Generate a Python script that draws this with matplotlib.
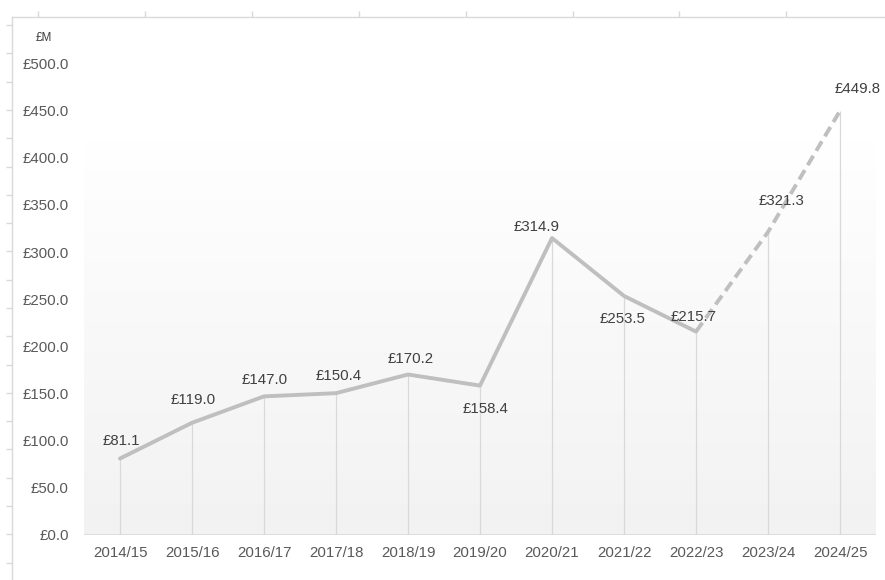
import matplotlib
matplotlib.use("Agg")
import matplotlib.pyplot as plt
import numpy as np

years = ["2014/15", "2015/16", "2016/17", "2017/18", "2018/19", "2019/20",
         "2020/21", "2021/22", "2022/23", "2023/24", "2024/25"]
values = [81.1, 119.0, 147.0, 150.4, 170.2, 158.4, 314.9, 253.5, 215.7, 321.3, 449.8]
last_actual = 8  # 2022/23 onwards is projected (dashed)

# label offsets in pixels (dx, dy) relative to each point
label_offsets = [(1, 18), (1, 23), (1, 16), (3, 17), (3, 16), (6, -23),
                 (-15, 11), (-1, -23), (-2, 15), (13, 31), (18, 22)]

plt.rcParams['font.family'] = ['Liberation Sans', 'DejaVu Sans']

W, H = 885, 580
fig = plt.figure(figsize=(W / 100, H / 100), dpi=100)

# outer frame: left and top rules with small ticks
frame = fig.add_axes([12 / W, 0, 1 - 12 / W, (H - 17) / H])
frame.set_xlim(0, W - 12)
frame.set_ylim(H - 17, 0)
frame.patch.set_alpha(0)
for s in ["right", "bottom"]:
    frame.spines[s].set_visible(False)
for s in ["left", "top"]:
    frame.spines[s].set_color("#d9d9d9")
    frame.spines[s].set_linewidth(1)
frame.xaxis.tick_top()
frame.set_xticks(np.arange(26, W - 12, 106.9))
frame.set_yticks(np.arange(8, H - 17, 28.3))
frame.tick_params(colors="#d9d9d9", length=4, width=1, labelleft=False, labeltop=False)

# main plot area
y0, y500 = 535, 63.5
ax = fig.add_axes([84 / W, (H - y0) / H, (876 - 84) / W, (y0 - y500) / H])
ax.set_xlim(-0.5, 10.5)
ax.set_ylim(0, 500)
ax.patch.set_alpha(0)

grad = np.linspace(0.949, 1.0, 256).reshape(-1, 1)
ax.imshow(np.dstack([grad, grad, grad]), extent=[-0.5, 10.5, 0, 419],
          aspect="auto", origin="lower", zorder=0, interpolation="bilinear")

x = np.arange(len(years))
ax.vlines(x, 0, values, color="#d9d9d9", lw=0.9, zorder=1)
ax.axhline(0, color="#d9d9d9", lw=1.2, zorder=2)

ax.plot(x[:last_actual + 1], values[:last_actual + 1], color="#bfbfbf",
        lw=2.8, solid_capstyle="round", solid_joinstyle="round", zorder=3)
ax.plot(x[last_actual:], values[last_actual:], color="#bfbfbf", lw=2.8,
        linestyle=(0, (2.8, 1.5)), zorder=3)

for xi, v, (dx, dy) in zip(x, values, label_offsets):
    ax.annotate(f"£{v:.1f}", (xi, v), xytext=(dx, dy), textcoords="offset pixels",
                ha="center", va="center", fontsize=10.8, color="#404040", zorder=4)

for s in ax.spines.values():
    s.set_visible(False)
ax.set_xticks(x)
ax.set_xticklabels(years)
ax.set_yticks(np.arange(0, 501, 50))
ax.set_yticklabels([f"£{t:.1f}" for t in np.arange(0, 501, 50)])
ax.tick_params(axis="x", length=0, pad=8, labelsize=10.8, labelcolor="#595959")
ax.tick_params(axis="y", length=0, pad=11, labelsize=10.8, labelcolor="#595959")

fig.text(44 / W, 1 - 38 / H, "£M", ha="center", va="center", fontsize=8.5,
         color="#404040")

fig.savefig("out.png", dpi=100)
